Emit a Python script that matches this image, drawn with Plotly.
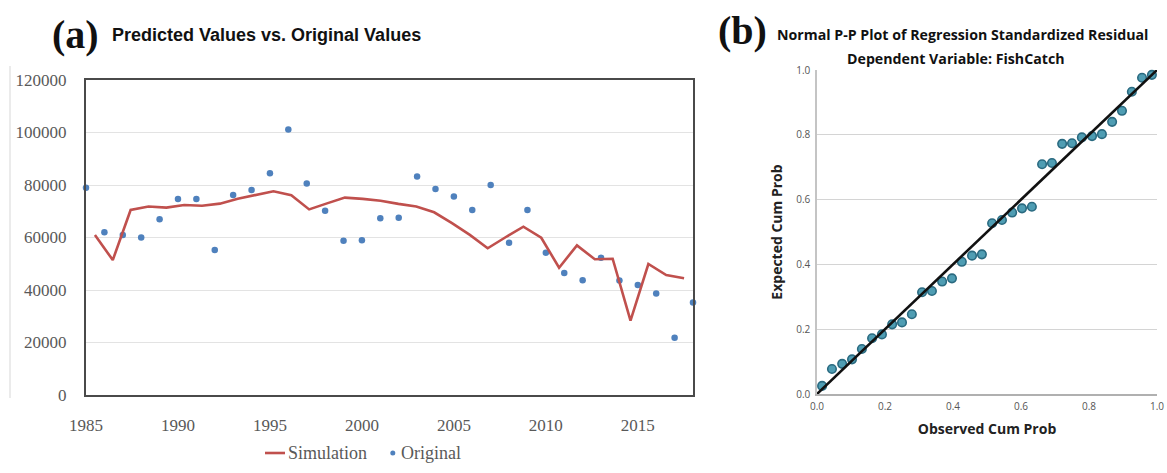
import plotly.graph_objects as go

# ---- Panel (a): annual fish catch, observed vs. simulated ----
years = list(range(1985, 2019))
original = [79000, 62000, 61000, 60000, 67000, 74700, 74700, 55200, 76200, 78100,
            84500, 101100, 80600, 70200, 58800, 59000, 67300, 67500, 83200, 78500,
            75600, 70500, 80000, 58000, 70500, 54200, 46500, 43700, 52300, 43600,
            41900, 38700, 21800, 35200]
simulation = [61000, 51400, 70500, 71800, 71400, 72400, 72100, 72900, 74800, 76100,
              77600, 76100, 70700, 73000, 75200, 74700, 74000, 72800, 71800, 69600,
              65500, 61000, 55900, 60100, 64100, 59900, 48500, 57000, 51700, 51900,
              28300, 49900, 45700, 44500]
year_ticks = [1985, 1990, 1995, 2000, 2005, 2010, 2015]
catch_ticks = [0, 20000, 40000, 60000, 80000, 100000, 120000]
catch_labels = ["0", "20000", "40000", "60000", "80000", "100000", "120000"]

# ---- Panel (b): normal P-P plot of standardized residuals ----
observed_cum = [0.015, 0.044, 0.074, 0.103, 0.132, 0.162, 0.191, 0.221, 0.250, 0.279,
                0.309, 0.338, 0.368, 0.397, 0.426, 0.456, 0.485, 0.515, 0.544, 0.574,
                0.603, 0.632, 0.662, 0.691, 0.721, 0.750, 0.779, 0.809, 0.838, 0.868,
                0.897, 0.926, 0.956, 0.985]
expected_cum = [0.025, 0.077, 0.093, 0.107, 0.139, 0.172, 0.184, 0.215, 0.221, 0.246,
                0.314, 0.318, 0.347, 0.357, 0.408, 0.427, 0.431, 0.527, 0.537, 0.560,
                0.573, 0.578, 0.709, 0.713, 0.772, 0.774, 0.792, 0.796, 0.802, 0.840,
                0.874, 0.933, 0.976, 0.985]
prob_ticks = [0.0, 0.2, 0.4, 0.6, 0.8, 1.0]
prob_labels = ["0.0", "0.2", "0.4", "0.6", "0.8", "1.0"]
reference_line = [0.0, 1.0]

W, H = 1167, 473


def px(x):
    return x / W


def py(y):
    return 1 - y / H


SERIF = "Liberation Serif, Times New Roman, serif"
SANS = "Liberation Sans, Arial, sans-serif"
SPSS = "Open Sans, DejaVu Sans, sans-serif"
RED = "#c0504d"
BLUE = "#4f81bd"

fig = go.Figure()

# simulated series sits on a category-style axis (points centred in each year slot)
fig.add_trace(go.Scatter(
    x=years, y=simulation, xaxis="x2", yaxis="y", mode="lines",
    line=dict(color=RED, width=2.6), name="Simulation", showlegend=False))
fig.add_trace(go.Scatter(
    x=years, y=original, xaxis="x", yaxis="y", mode="markers",
    marker=dict(color=BLUE, size=6.5), cliponaxis=False,
    name="Original", showlegend=False))

# P-P plot
fig.add_trace(go.Scatter(
    x=observed_cum, y=expected_cum, xaxis="x3", yaxis="y3", mode="markers",
    marker=dict(color="#4f9db3", size=8.5, line=dict(color="#2a6a80", width=1.6)),
    cliponaxis=False, showlegend=False))
fig.add_trace(go.Scatter(
    x=reference_line, y=reference_line, xaxis="x3", yaxis="y3", mode="lines",
    line=dict(color="#111111", width=2.6), cliponaxis=False, showlegend=False))

frame = dict(showline=True, linecolor="#4a4a4a", linewidth=2, mirror=True)

fig.update_layout(
    width=W, height=H,
    margin=dict(l=0, r=0, t=0, b=0, autoexpand=False),
    paper_bgcolor="white", plot_bgcolor="white",
    xaxis=dict(domain=[px(86), px(693)], range=[1985, 2018], anchor="y",
               tickvals=year_ticks, showgrid=False, zeroline=False, ticks="",
               automargin=False,
               tickfont=dict(family=SERIF, size=17, color="#595959"),
               ticklabelstandoff=14, **frame),
    xaxis2=dict(domain=[px(86), px(693)], range=[1984.5, 2018.5], anchor="y",
                overlaying="x", visible=False, automargin=False),
    yaxis=dict(domain=[py(395), py(80)], range=[0, 120000], anchor="x",
               tickvals=catch_ticks, ticktext=catch_labels,
               showgrid=True, gridcolor="#e3e3e3", gridwidth=1,
               zeroline=False, ticks="", automargin=False,
               tickfont=dict(family=SERIF, size=17, color="#595959"),
               ticklabelstandoff=14, **frame),
    xaxis3=dict(domain=[px(817), px(1157)], range=[0, 1], anchor="y3",
                tickvals=prob_ticks, ticktext=prob_labels,
                showgrid=False, zeroline=False, ticks="", automargin=False,
                showline=True, linecolor="#b0b0b0", linewidth=2,
                tickfont=dict(family=SPSS, size=10, color="#555555"),
                ticklabelstandoff=2,
                title=dict(text="<b>Observed Cum Prob</b>",
                           font=dict(family=SPSS, size=14, color="#222222"),
                           standoff=12)),
    yaxis3=dict(domain=[py(394), py(70)], range=[0, 1], anchor="x3",
                tickvals=prob_ticks, ticktext=prob_labels,
                showgrid=True, gridcolor="#d4d4d4", gridwidth=1.3,
                zeroline=False, ticks="", automargin=False,
                showline=True, linecolor="#c4c4c4", linewidth=1.5,
                tickfont=dict(family=SPSS, size=10, color="#555555"),
                ticklabelstandoff=3,
                title=dict(text="<b>Expected Cum Prob</b>",
                           font=dict(family=SPSS, size=14, color="#222222"),
                           standoff=10)),
)

annotations = [
    dict(text="<b>(a)</b>", x=px(50), y=py(34), xanchor="left", yanchor="middle",
         font=dict(family=SERIF, size=40, color="#111111")),
    dict(text="<b>Predicted Values vs. Original Values</b>", x=px(110), y=py(35),
         xanchor="left", yanchor="middle",
         font=dict(family=SANS, size=18, color="#111111")),
    dict(text="<b>(b)</b>", x=px(716), y=py(30), xanchor="left", yanchor="middle",
         font=dict(family=SERIF, size=40, color="#111111")),
    dict(text="<b>Normal P-P Plot of Regression Standardized Residual</b>",
         x=px(775), y=py(34), xanchor="left", yanchor="middle",
         font=dict(family=SPSS, size=14.2, color="#111111")),
    dict(text="<b>Dependent Variable: FishCatch</b>", x=px(956), y=py(59),
         xanchor="center", yanchor="middle",
         font=dict(family=SPSS, size=14.2, color="#111111")),
    # legend entries for panel (a)
    dict(text="Simulation", x=px(286), y=py(453), xanchor="left", yanchor="middle",
         font=dict(family=SERIF, size=18, color="#595959")),
    dict(text="Original", x=px(399), y=py(453), xanchor="left", yanchor="middle",
         font=dict(family=SERIF, size=18, color="#595959")),
]
for a in annotations:
    a.update(xref="paper", yref="paper", showarrow=False)
fig.update_layout(annotations=annotations)

shapes = [
    # faint outer edge of chart (a)
    dict(type="line", xref="paper", yref="paper", x0=px(10), x1=px(10),
         y0=py(66), y1=py(398), line=dict(color="#e4e4e4", width=1.5)),
    # legend swatches
    dict(type="line", xref="paper", yref="paper", x0=px(265), x1=px(285),
         y0=py(453), y1=py(453), line=dict(color=RED, width=2.6)),
    dict(type="circle", xref="paper", yref="paper", x0=px(390.3), x1=px(395.3),
         y0=py(455.5), y1=py(450.5), fillcolor=BLUE, line=dict(width=0)),
]
fig.update_layout(shapes=shapes)

fig.write_html("out.html")
